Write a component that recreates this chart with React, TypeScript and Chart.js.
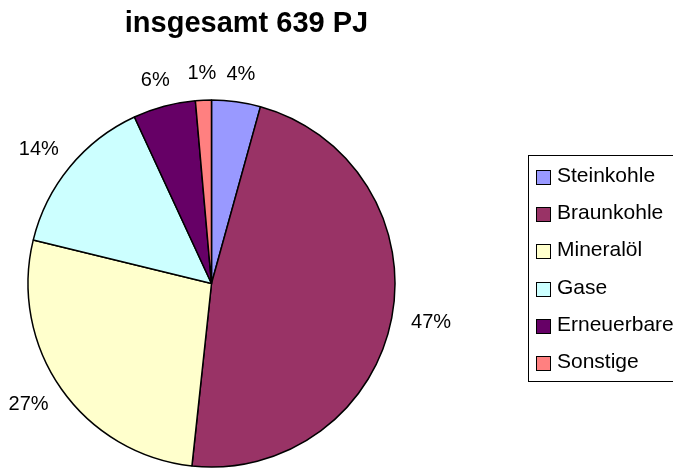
import React, { useEffect, useRef } from "react";
import { Chart, registerables } from "chart.js";

Chart.register(...registerables);

const titleText = "insgesamt 639 PJ";
const categories = ["Steinkohle", "Braunkohle", "Mineralöl", "Gase", "Erneuerbare", "Sonstige"];
const shares = [4.3, 47.4, 27.1, 14.3, 5.5, 1.4];
const colors = ["#9999FF", "#993366", "#FFFFCC", "#CCFFFF", "#660066", "#FF8080"];

const FONT = "'Liberation Sans', Arial, sans-serif";

const overlayPlugin = {
  id: "overlay",
  afterDraw(chart: any) {
    const ctx = chart.ctx as CanvasRenderingContext2D;
    ctx.save();
    // title
    ctx.fillStyle = "#000";
    ctx.font = `bold 29px ${FONT}`;
    ctx.textAlign = "center";
    ctx.textBaseline = "alphabetic";
    ctx.fillText(titleText, 246.5, 32);

    // percentage labels
    const meta = chart.getDatasetMeta(0);
    const data = chart.data.datasets[0].data as number[];
    const total = data.reduce((a: number, b: number) => a + b, 0);
    ctx.font = `20px ${FONT}`;
    ctx.textBaseline = "middle";
    meta.data.forEach((arc: any, i: number) => {
      const p = arc.getProps(["startAngle", "endAngle", "x", "y", "outerRadius"], true);
      const a = (p.startAngle + p.endAngle) / 2;
      const txt = Math.round((data[i] / total) * 100) + "%";
      const w = ctx.measureText(txt).width;
      const h = 14;
      const d = p.outerRadius + 20;
      const cx = p.x + Math.cos(a) * d + Math.cos(a) * (w / 2);
      const cy = p.y + Math.sin(a) * d + Math.sin(a) * (h / 2);
      ctx.textAlign = "center";
      ctx.fillText(txt, cx, cy);
    });

    // legend
    const bx = 528.5, by = 155.5;
    ctx.strokeStyle = "#000";
    ctx.lineWidth = 1;
    ctx.fillStyle = "#fff";
    ctx.fillRect(bx, by, 200, 226);
    ctx.strokeRect(bx, by, 200, 226);
    ctx.font = `21px ${FONT}`;
    ctx.textAlign = "left";
    ctx.textBaseline = "alphabetic";
    const labels = chart.data.labels as string[];
    labels.forEach((lab: string, i: number) => {
      const sy = Math.round(170 + i * 37.2);
      ctx.fillStyle = colors[i];
      ctx.fillRect(536, sy, 14, 14);
      ctx.strokeStyle = "#000";
      ctx.lineWidth = 1;
      ctx.strokeRect(536.5, sy + 0.5, 14, 14);
      ctx.fillStyle = "#000";
      ctx.fillText(lab, 557, sy + 12);
    });
    ctx.restore();
  },
};

export default function App() {
  const ref = useRef<HTMLCanvasElement | null>(null);
  useEffect(() => {
    if (!ref.current) return;
    const chart = new Chart(ref.current, {
      type: "pie",
      data: {
        labels: categories,
        datasets: [
          {
            data: shares,
            backgroundColor: colors,
            borderColor: "#000",
            borderWidth: 1.5,
            radius: 183.5,
          } as any,
        ],
      },
      options: {
        responsive: false,
        animation: false,
        events: [],
        layout: { padding: { left: 0, right: 250, top: 99, bottom: 0 } },
        plugins: {
          legend: { display: false },
          title: { display: false },
          tooltip: { enabled: false },
        },
      },
      plugins: [overlayPlugin],
    });
    return () => chart.destroy();
  }, []);
  return (
    <div style={{ position: "fixed", left: 0, top: 0, width: 673, height: 468, background: "#fff" }}>
      <canvas ref={ref} width={673} height={468} />
    </div>
  );
}
